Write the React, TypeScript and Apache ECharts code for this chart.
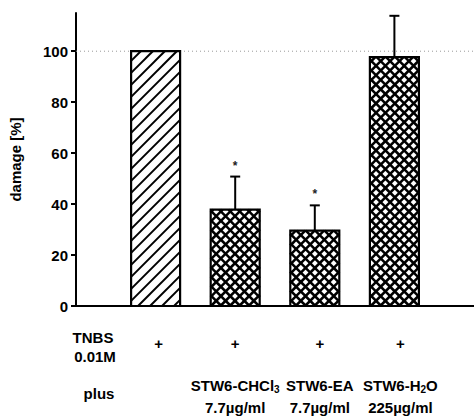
import React, { useEffect, useRef } from "react";
import * as echarts from "echarts";

// ---- data ----
const CATEGORY_X = [1, 2, 3, 4];
const DAMAGE = [100, 37.8, 29.6, 97.7];
const ERROR_UP = [0, 13, 9.9, 16.2];
const SIGNIF = ["", "*", "*", ""];
const HATCH = ["diag", "cross", "cross", "cross"];
const TNBS_MARK = ["+", "+", "+", "+"];
const TREATMENT_NAME = ["", "STW6-CHCl{sub|3}", "STW6-EA", "STW6-H{sub|2}O"];
const TREATMENT_DOSE = ["", "7.7µg/ml", "7.7µg/ml", "225µg/ml"];
const Y_TICKS = [0, 20, 40, 60, 80, 100];
const REFERENCE_LEVEL = 100;
const Y_NAME = "damage [%]";
const ROW1_LABEL = ["TNBS", "0.01M"];
const ROW2_LABEL = "plus";

// ---- layout constants ----
const FONT = "'Liberation Sans', Arial, Helvetica, sans-serif";
const BAR_WIDTH = 49;
const LABEL_SHIFT = [3, 0, 5, 6];

export default function App() {
  const ref = useRef<HTMLDivElement>(null);
  useEffect(() => {
    const chart = echarts.init(ref.current!, null, { renderer: "svg" });
    const renderItem = (params: any, api: any) => {
      const i = params.dataIndex;
      const xv = api.value(0);
      const v = api.value(1);
      const err = api.value(2);
      const top = api.coord([xv, v]);
      const base = api.coord([xv, 0]);
      const cx = top[0];
      const x0 = cx - BAR_WIDTH / 2;
      const x1 = cx + BAR_WIDTH / 2;
      const y0 = top[1];
      const y1 = base[1];
      const children: any[] = [];
      children.push({
        type: "rect",
        shape: { x: x0, y: y0, width: x1 - x0, height: y1 - y0 },
        style: { fill: "#fff" },
      });
      const kind = HATCH[i];
      const step = kind === "diag" ? 12 : 9.4;
      const lw = kind === "diag" ? 2 : 2.5;
      // "/" family: x + y = c
      for (let c = Math.ceil((x0 + y0) / step) * step; c < x1 + y1; c += step) {
        const xa = Math.max(x0, c - y1);
        const xb = Math.min(x1, c - y0);
        if (xb > xa) {
          children.push({
            type: "line",
            shape: { x1: xa, y1: c - xa, x2: xb, y2: c - xb },
            style: { stroke: "#000", lineWidth: lw },
          });
        }
      }
      if (kind === "cross") {
        // "\" family: y - x = c
        for (let c = Math.ceil((y0 - x1) / step) * step; c < y1 - x0; c += step) {
          const xa = Math.max(x0, y0 - c);
          const xb = Math.min(x1, y1 - c);
          if (xb > xa) {
            children.push({
              type: "line",
              shape: { x1: xa, y1: xa + c, x2: xb, y2: xb + c },
              style: { stroke: "#000", lineWidth: lw },
            });
          }
        }
      }
      children.push({
        type: "rect",
        shape: { x: x0, y: y0, width: x1 - x0, height: y1 - y0 },
        style: { fill: "none", stroke: "#000", lineWidth: 2.2 },
      });
      if (err > 0) {
        const pe = api.coord([xv, v + err]);
        children.push({
          type: "line",
          shape: { x1: cx, y1: y0, x2: cx, y2: pe[1] },
          style: { stroke: "#000", lineWidth: 2 },
        });
        children.push({
          type: "line",
          shape: { x1: cx - 5, y1: pe[1], x2: cx + 5, y2: pe[1] },
          style: { stroke: "#000", lineWidth: 2 },
        });
        if (SIGNIF[i]) {
          children.push({
            type: "text",
            style: {
              text: SIGNIF[i],
              x: cx,
              y: pe[1] - 11,
              textAlign: "center",
              textVerticalAlign: "middle",
              fontSize: 12,
              fontWeight: "bold",
              fontFamily: FONT,
              fill: "#222",
            },
          });
        }
      }
      return { type: "group", children };
    };

    chart.setOption({
      animation: false,
      backgroundColor: "#fff",
      grid: { left: 76, top: 13, width: 400, height: 293 },
      xAxis: {
        type: "value",
        min: 0,
        max: 5,
        axisLine: { show: true, lineStyle: { color: "#000", width: 2 } },
        axisTick: { show: false },
        axisLabel: { show: false },
        splitLine: { show: false },
      },
      yAxis: {
        type: "value",
        min: 0,
        max: 115,
        interval: 20,
        name: Y_NAME,
        nameLocation: "middle",
        nameGap: 53,
        nameTextStyle: { fontSize: 15, fontWeight: "bold", color: "#000", fontFamily: FONT },
        axisLine: { show: true, lineStyle: { color: "#000", width: 2 } },
        axisTick: {
          show: true,
          length: 5,
          customValues: Y_TICKS,
          lineStyle: { color: "#000", width: 2 },
        },
        axisLabel: {
          customValues: Y_TICKS,
          margin: 8,
          fontSize: 15,
          fontWeight: "bold",
          color: "#000",
          fontFamily: FONT,
          formatter: (val: number) => (Y_TICKS.indexOf(val) >= 0 ? String(val) : ""),
        },
        splitLine: { show: false },
      },
      series: [
        {
          type: "line",
          data: [
            [0, REFERENCE_LEVEL],
            [5, REFERENCE_LEVEL],
          ],
          symbol: "none",
          silent: true,
          z: 1,
          lineStyle: { color: "#999", width: 1, type: [1, 3] },
        },
        {
          type: "custom",
          renderItem,
          clip: false,
          z: 3,
          encode: { x: 0, y: 1 },
          data: CATEGORY_X.map((x, i) => [x, DAMAGE[i], ERROR_UP[i]]),
        },
      ],
    });

    const axisX = chart.convertToPixel({ xAxisIndex: 0 }, 0) as number;
    const axisY = chart.convertToPixel({ yAxisIndex: 0 }, 0) as number;
    const xs = CATEGORY_X.map((v) => chart.convertToPixel({ xAxisIndex: 0 }, v) as number);
    const base = { fontSize: 15, fontWeight: "bold", fontFamily: FONT, fill: "#000" };
    const rich = {
      sub: { fontSize: 10, fontWeight: "bold", fontFamily: FONT, verticalAlign: "bottom", lineHeight: 8 },
    };
    const graphic: any[] = [];
    graphic.push({
      type: "text",
      style: { ...base, text: ROW1_LABEL[0], x: axisX + 17, y: axisY + 31, textAlign: "center", textVerticalAlign: "middle" },
    });
    graphic.push({
      type: "text",
      style: { ...base, text: ROW1_LABEL[1], x: axisX + 19, y: axisY + 50, textAlign: "center", textVerticalAlign: "middle" },
    });
    graphic.push({
      type: "text",
      style: { ...base, text: ROW2_LABEL, x: axisX + 23, y: axisY + 87, textAlign: "center", textVerticalAlign: "middle" },
    });
    xs.forEach((x, i) => {
      graphic.push({
        type: "text",
        style: { ...base, text: TNBS_MARK[i], x: x + LABEL_SHIFT[i], y: axisY + 37, textAlign: "center", textVerticalAlign: "middle" },
      });
      if (TREATMENT_NAME[i]) {
        graphic.push({
          type: "text",
          style: {
            ...base,
            text: "{main|" + TREATMENT_NAME[i].replace(/\{sub\|(\w)\}/, "}{sub|$1}{main|") + "}",
            rich: { main: { ...base, lineHeight: 18, verticalAlign: "middle" }, ...rich },
            x: x + LABEL_SHIFT[i],
            y: axisY + 79,
            textAlign: "center",
            textVerticalAlign: "middle",
          },
        });
        graphic.push({
          type: "text",
          style: { ...base, text: TREATMENT_DOSE[i], x: x + LABEL_SHIFT[i], y: axisY + 101, textAlign: "center", textVerticalAlign: "middle" },
        });
      }
    });
    chart.setOption({ graphic });
    return () => chart.dispose();
  }, []);
  return (
    <div
      ref={ref}
      style={{ position: "fixed", left: 0, top: 0, width: 474, height: 417, background: "#fff" }}
    />
  );
}
